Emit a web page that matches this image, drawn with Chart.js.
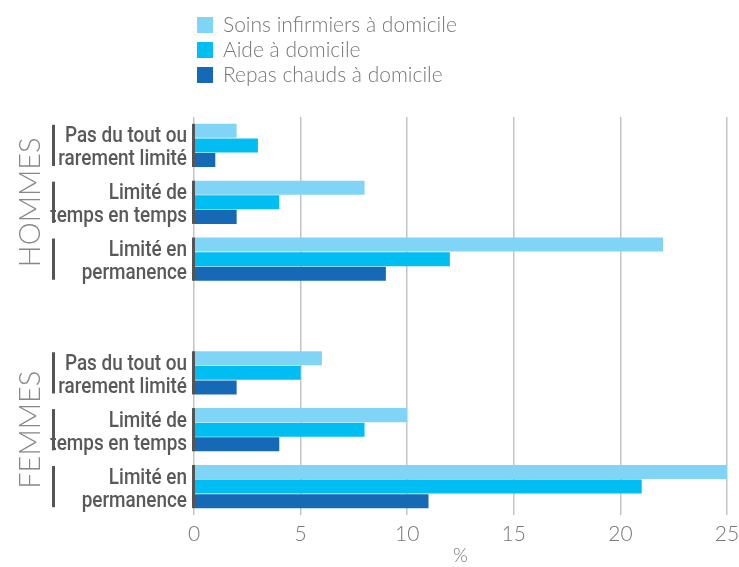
<!DOCTYPE html>
<html lang="fr">
<head>
<meta charset="utf-8">
<script src="https://cdn.jsdelivr.net/npm/chart.js@4.4.0/dist/chart.umd.min.js"></script>
<style>
  html, body { margin:0; padding:0; background:#fff; }
  #wrap { width:739px; height:567px; position:relative; }
</style>
</head>
<body>
<div id="wrap"><canvas id="chart"></canvas></div>
<script>
// données (%)
const categories = [
  ["Pas du tout ou", "rarement limité"],
  ["Limité de", "temps en temps"],
  ["Limité en", "permanence"],
  "",
  ["Pas du tout ou", "rarement limité"],
  ["Limité de", "temps en temps"],
  ["Limité en", "permanence"]
];
const groups = [
  { label: "HOMMES", from: 0, to: 2 },
  { label: "FEMMES", from: 4, to: 6 }
];
const soins = [2, 8, 22, null, 6, 10, 25];
const aide  = [3, 4, 12, null, 5, 8, 21];
const repas = [1, 2, 9, null, 2, 4, 11];
const seriesNames = ["Soins infirmiers à domicile", "Aide à domicile", "Repas chauds à domicile"];
const seriesColors = ["#80d4f6", "#00bdf2", "#1569b5"];
const xTicks = [0, 5, 10, 15, 20, 25];

const LIGHT = "Lato, 'Open Sans', sans-serif";
const COND = "Roboto, 'Liberation Sans', sans-serif";

// légende verticale, libellés condensés, séparateurs, HOMMES / FEMMES
const decor = {
  id: "decor",
  afterDatasetsDraw(chart){
    const ctx = chart.ctx, area = chart.chartArea;
    const ys = chart.scales.y;
    const m0 = chart.getDatasetMeta(0), m2 = chart.getDatasetMeta(2);
    ctx.save();
    categories.forEach((c, i) => {
      if (c === "") return;
      const b0 = m0.data[i], b2 = m2.data[i];
      const top = b0.y - b0.height/2, bot = b2.y + b2.height/2;
      ctx.fillStyle = "#555";
      ctx.fillRect(area.left - 2, top, 3, bot - top);
      ctx.fillRect(52, top + 1, 3, bot - top - 2);
      // libellé de catégorie (police condensée)
      const yc = ys.getPixelForValue(i);
      ctx.fillStyle = "#595959";
      ctx.font = "500 22px " + COND;
      ctx.textAlign = "right"; ctx.textBaseline = "alphabetic";
      c.forEach((line, k) => {
        ctx.save();
        ctx.translate(area.left - 7, yc - 3 + k*23);
        ctx.scale(0.86, 1);
        ctx.fillText(line, 0, 0);
        ctx.restore();
      });
    });
    // groupes
    ctx.fillStyle = "#888";
    ctx.font = "300 29px " + LIGHT;
    ctx.textAlign = "center"; ctx.textBaseline = "middle";
    groups.forEach(g => {
      const yc = (ys.getPixelForValue(g.from) + ys.getPixelForValue(g.to)) / 2;
      ctx.save();
      ctx.translate(31, yc);
      ctx.rotate(-Math.PI/2);
      ctx.fillText(g.label, 0, 0);
      ctx.restore();
    });
    // légende
    ctx.textAlign = "left";
    ctx.font = "300 21px " + LIGHT;
    chart.data.datasets.forEach((ds, i) => {
      const y = 17 + i*25;
      ctx.fillStyle = ds.backgroundColor;
      ctx.fillRect(197, y, 16, 16);
      ctx.fillStyle = "#777";
      ctx.fillText(ds.label, 223, y + 8);
    });
    ctx.restore();
  }
};

new Chart(document.getElementById("chart"), {
  type: "bar",
  data: {
    labels: categories,
    datasets: [
      { label: seriesNames[0], data: soins, backgroundColor: seriesColors[0] },
      { label: seriesNames[1], data: aide,  backgroundColor: seriesColors[1] },
      { label: seriesNames[2], data: repas, backgroundColor: seriesColors[2] }
    ]
  },
  options: {
    indexAxis: "y",
    responsive: true,
    maintainAspectRatio: false,
    animation: false,
    categoryPercentage: 0.77,
    barPercentage: 0.96,
    layout: { padding: { top: 117, right: 0, left: 0, bottom: 0 } },
    plugins: { legend: { display: false }, tooltip: { enabled: false } },
    scales: {
      x: {
        min: 0, max: 25,
        afterBuildTicks: s => { s.ticks = xTicks.map(v => ({ value: v })); },
        afterFit: s => { s.height = 52; s.paddingRight = 12; s.paddingLeft = 0; },
        grid: { color: "#c4c4c4", lineWidth: 1.5, drawTicks: false },
        border: { display: false },
        ticks: { color: "#777", padding: 7, font: { family: LIGHT, size: 21, weight: "300" } },
        title: { display: true, text: "%", color: "#777", padding: { top: 0, bottom: 0 },
                 font: { family: LIGHT, size: 19, weight: "300" } }
      },
      y: {
        afterFit: s => { s.width = 194; },
        grid: { display: false, drawTicks: false },
        border: { display: false },
        ticks: { display: false }
      }
    }
  },
  plugins: [decor]
});
</script>
</body>
</html>
